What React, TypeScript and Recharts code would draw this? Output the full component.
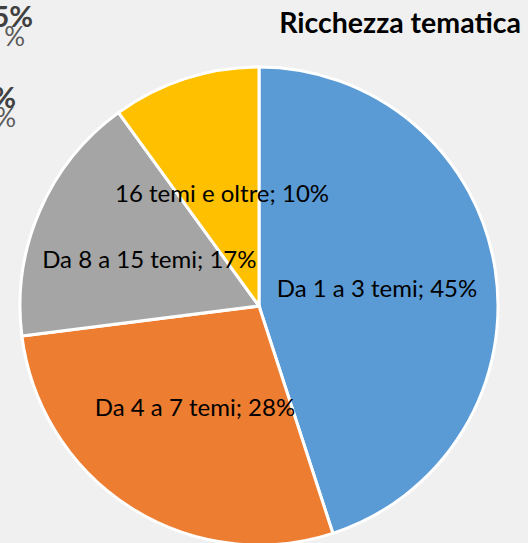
import { Cell, Pie, PieChart } from 'recharts';

const categories = ['Da 1 a 3 temi', 'Da 4 a 7 temi', 'Da 8 a 15 temi', '16 temi e oltre'];
const shares = [45, 28, 17, 10];
const colors = ['#5B9BD5', '#ED7D31', '#A5A5A5', '#FFC000'];

const data = categories.map((name, i) => ({ name, value: shares[i] }));

const RAD = Math.PI / 180;

function SliceLabel(props: any) {
  const { cx, cy, midAngle, outerRadius, name, value } = props;
  const r = outerRadius * 0.5;
  const x = cx + r * Math.cos(-midAngle * RAD);
  const y = cy + r * Math.sin(-midAngle * RAD);
  return (
    <text
      x={x}
      y={y}
      textAnchor="middle"
      dominantBaseline="central"
      fill="#000"
      fontSize={24}
      fontFamily="Lato, sans-serif"
    >
      {`${name}; ${value}%`}
    </text>
  );
}

export default function App() {
  return (
    <div style={{ position: 'absolute', left: 0, top: 0, width: 528, height: 543, background: '#F0F0F0' }}>
      <PieChart width={528} height={543}>
        {/* bits of a neighbouring chart cut off at the left edge */}
        <text x={33} y={27} textAnchor="end" fontSize={29} fontWeight="bold" fill="#404040" fontFamily="Lato, sans-serif">5%</text>
        <text x={25} y={46} textAnchor="end" fontSize={26} fill="#595959" fontFamily="Lato, sans-serif">%</text>
        <text x={16} y={108} textAnchor="end" fontSize={29} fontWeight="bold" fill="#404040" fontFamily="Lato, sans-serif">%</text>
        <text x={16} y={127} textAnchor="end" fontSize={26} fill="#595959" fontFamily="Lato, sans-serif">%</text>
        <text x={521} y={33} textAnchor="end" fontSize={28.5} fontWeight="bold" fill="#000" fontFamily="Lato, sans-serif">
          Ricchezza tematica
        </text>
        <Pie
          data={data}
          dataKey="value"
          nameKey="name"
          cx={254}
          cy={301}
          outerRadius={239}
          startAngle={90}
          endAngle={-270}
          stroke="#FFFFFF"
          strokeWidth={3}
          label={SliceLabel}
          labelLine={false}
          isAnimationActive={false}
        >
          {data.map((d, i) => (
            <Cell key={d.name} fill={colors[i]} />
          ))}
        </Pie>
      </PieChart>
    </div>
  );
}
